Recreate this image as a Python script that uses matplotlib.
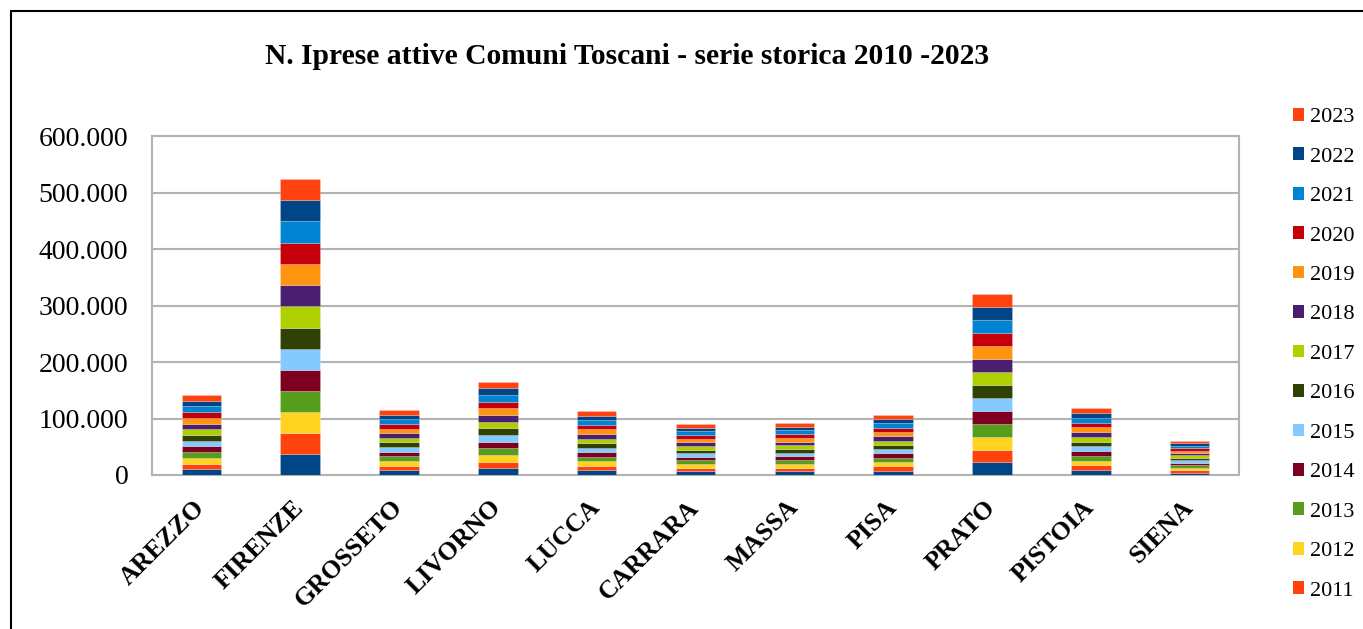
import matplotlib
matplotlib.use("Agg")
import matplotlib.pyplot as plt
from matplotlib.patches import Patch, Rectangle
from matplotlib.ticker import FuncFormatter, MultipleLocator
import matplotlib.transforms as mtransforms
import numpy as np

plt.rcParams['font.family'] = ['Liberation Serif', 'DejaVu Serif']

comuni = ["AREZZO", "FIRENZE", "GROSSETO", "LIVORNO", "LUCCA", "CARRARA",
          "MASSA", "PISA", "PRATO", "PISTOIA", "SIENA"]
anni = [str(y) for y in range(2010, 2024)]

# active businesses per year (2010..2023) for each comune
arezzo   = [10150, 10200, 10150, 10100, 10050, 10100, 10100, 10050, 10050, 10100, 10100, 10150, 10150, 10050]
firenze  = [36500, 37200, 37300, 37400, 37300, 37500, 37600, 37500, 37700, 37600, 37500, 37600, 37400, 37000]
grosseto = [8250, 8300, 8250, 8200, 8200, 8200, 8200, 8150, 8200, 8200, 8200, 8250, 8250, 8150]
livorno  = [11850, 11900, 11850, 11800, 11750, 11750, 11700, 11700, 11700, 11750, 11750, 11800, 11800, 11700]
lucca    = [8100, 8150, 8100, 8050, 8050, 8050, 8050, 8050, 8050, 8100, 8100, 8100, 8100, 8050]
carrara  = [6500, 6500, 6450, 6450, 6400, 6400, 6400, 6400, 6400, 6400, 6400, 6450, 6450, 6400]
massa    = [6600, 6650, 6600, 6600, 6550, 6550, 6550, 6550, 6550, 6550, 6550, 6600, 6600, 6550]
pisa     = [7650, 7700, 7650, 7650, 7600, 7600, 7600, 7600, 7650, 7650, 7650, 7700, 7700, 7600]
prato    = [22300, 22600, 22700, 22800, 22800, 22900, 22900, 23000, 23000, 23000, 22900, 23000, 22900, 22700]
pistoia  = [8450, 8500, 8450, 8450, 8400, 8400, 8400, 8400, 8400, 8450, 8450, 8450, 8450, 8400]
siena    = [4350, 4400, 4350, 4350, 4350, 4300, 4300, 4300, 4300, 4350, 4350, 4350, 4350, 4300]

colori = ["#004586", "#ff420e", "#ffd320", "#579d1c", "#7e0021", "#83caff",
          "#314004", "#aecf00", "#4b1f6f", "#ff950e", "#c5000b", "#0084d1",
          "#004586", "#ff420e"]

data = np.array([arezzo, firenze, grosseto, livorno, lucca, carrara,
                 massa, pisa, prato, pistoia, siena])  # shape (comuni, anni)

W, H = 1363, 629
fig = plt.figure(figsize=(W / 100, H / 100), dpi=100)
ax = fig.add_axes([152 / W, 1 - 475 / H, (1239 - 152) / W, (475 - 136) / H])

x = np.arange(len(comuni))
bottom = np.zeros(len(comuni))
for j, anno in enumerate(anni):
    vals = data[:, j]
    ax.bar(x, vals, width=0.40, bottom=bottom, color=colori[j],
           edgecolor=(1, 1, 1, 0.35), linewidth=0.4, label=anno, zorder=3)
    bottom += vals

ax.set_xlim(-0.5, len(comuni) - 0.5)
ax.set_ylim(0, 600000)
ax.yaxis.set_major_locator(MultipleLocator(100000))
ax.yaxis.set_major_formatter(FuncFormatter(lambda v, p: f"{int(v):,}".replace(",", ".")))
ax.grid(axis='y', color='#b3b3b3', linewidth=1.5, zorder=0)
for s in ax.spines.values():
    s.set_color('#b3b3b3')
    s.set_linewidth(1.5)
ax.tick_params(axis='both', length=0)
ax.tick_params(axis='y', labelsize=20, pad=17)
ax.set_xticks(x)
ax.set_xticklabels(comuni, rotation=45, ha='right', va='center',
                   rotation_mode='anchor', fontsize=18.5, fontweight='bold')
offset = mtransforms.ScaledTranslation(0 / 100, -24 / 100, fig.dpi_scale_trans)
for lab in ax.get_xticklabels():
    lab.set_transform(lab.get_transform() + offset)

fig.text(627 / W, 1 - 57 / H, "N. Iprese attive Comuni Toscani - serie storica 2010 -2023",
         ha='center', va='center', fontsize=21.3, fontweight='bold')

handles = [Patch(facecolor=colori[j], label=anni[j]) for j in range(len(anni) - 1, 0, -1)]
fig.legend(handles=handles, loc='upper left', bbox_to_anchor=(1293 / W, 1 - 108 / H),
           frameon=False, fontsize=16, handlelength=0.5, handleheight=0.5,
           handletextpad=0.25, labelspacing=0.91, borderaxespad=0, borderpad=0)

fig.patches.append(Rectangle((11 / W, -0.05), 1.2, 1 - 11 / H + 0.05,
                             transform=fig.transFigure, fill=False,
                             edgecolor='black', linewidth=1.5))

fig.savefig("out.png", dpi=100)
